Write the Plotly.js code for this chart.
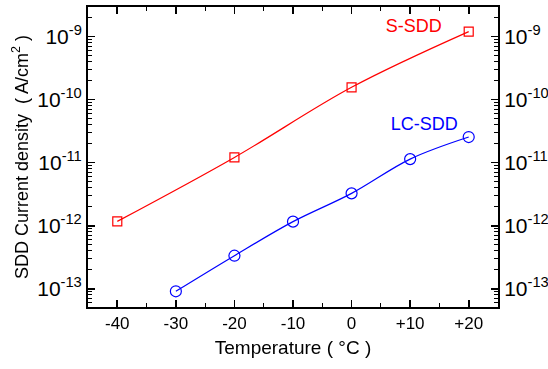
<!DOCTYPE html>
<html><head><meta charset="utf-8">
<script src="https://cdn.plot.ly/plotly-3.0.1.min.js"></script>
<style>html,body{margin:0;padding:0;background:#fff}#chart{width:548px;height:369px}</style>
</head><body><div id="chart"></div>
<script>
const sTemps = [-40, -20, 0, 20];
const sValues = [1.17e-12, 1.21e-11, 1.57e-10, 1.2e-9];
const lcTemps = [-30, -20, -10, 0, 10, 20];
const lcValues = [9.1e-14, 3.34e-13, 1.16e-12, 3.26e-12, 1.14e-11, 2.55e-11];
const seriesNames = ['S-SDD', 'LC-SDD'];
const xTickVals = [-40, -30, -20, -10, 0, 10, 20];
const xTickText = ['-40', '-30', '-20', '-10', '0', '+10', '+20'];
const yTickVals = [1e-13, 1e-12, 1e-11, 1e-10, 1e-9];
const yTickText = ['10<sup>-13</sup>', '10<sup>-12</sup>', '10<sup>-11</sup>', '10<sup>-10</sup>', '10<sup>-9</sup>'];

// minor tick positions on the log axis (2..9 x each decade)
const minorVals = [];
for (let e = -14; e <= -9; e++) for (let k = 2; k <= 9; k++) minorVals.push(k * Math.pow(10, e));

const font = 'Liberation Sans, Arial, sans-serif';
const traces = [
  {x: sTemps, y: sValues, mode: 'lines+markers', line: {color: '#ff0000', width: 1.2, shape: 'spline'},
   marker: {symbol: 'square-open', size: 9, color: '#ff0000', line: {width: 1.2}}, showlegend: false},
  {x: lcTemps, y: lcValues, mode: 'lines+markers', line: {color: '#0000ff', width: 1.2, shape: 'spline'},
   marker: {symbol: 'circle-open', size: 11, color: '#0000ff', line: {width: 1.2}}, showlegend: false},
  {x: [10.6], y: [Math.pow(10, -8.862)], mode: 'text', text: [seriesNames[0]], textposition: 'middle center',
   textfont: {family: font, size: 18, color: '#ff0000'}, hoverinfo: 'skip', showlegend: false, cliponaxis: false},
  {x: [12.4], y: [Math.pow(10, -10.408)], mode: 'text', text: [seriesNames[1]], textposition: 'middle center',
   textfont: {family: font, size: 18, color: '#0000ff'}, hoverinfo: 'skip', showlegend: false, cliponaxis: false},
  {x: sTemps, y: sValues, yaxis: 'y2', mode: 'markers', opacity: 0, hoverinfo: 'skip', showlegend: false}
];
const yRange = [-13.29, -8.53];
const xRange = [-45, 25];
const yCommon = {
  type: 'log', range: yRange, tickmode: 'array', tickvals: yTickVals, ticktext: yTickText,
  ticks: 'inside', ticklen: 7, tickwidth: 1.6, tickcolor: '#000',
  showline: true, linecolor: '#000', linewidth: 2, showgrid: false, zeroline: false,
  tickfont: {family: font, size: 21, color: '#000'},
  minor: {tickmode: 'array', tickvals: minorVals, ticks: 'inside', ticklen: 4, tickwidth: 1.2, tickcolor: '#000', showgrid: false}
};
const layout = {
  width: 548, height: 369,
  margin: {l: 88, r: 50, t: 7, b: 62},
  paper_bgcolor: '#fff', plot_bgcolor: '#fff',
  font: {family: font, color: '#000'},
  xaxis: {
    range: xRange, tickmode: 'array', tickvals: xTickVals, ticktext: xTickText,
    ticks: 'inside', ticklen: 7, tickwidth: 1.6, tickcolor: '#000',
    showline: true, linecolor: '#000', linewidth: 2, mirror: 'ticks',
    showgrid: false, zeroline: false,
    tickfont: {family: font, size: 17, color: '#000'},
    minor: {ticks: 'inside', ticklen: 4, tickwidth: 1.2, tickcolor: '#000', dtick: 5, tick0: -45, showgrid: false},
    title: {text: 'Temperature ( °C )', font: {family: font, size: 19, color: '#000'}, standoff: 8}
  },
  yaxis: Object.assign({}, yCommon, {
    side: 'left',
    title: {text: 'SDD Current density  ( A/cm<sup>2</sup> )', font: {family: font, size: 18, color: '#000'}, standoff: 4}
  }),
  yaxis2: Object.assign({}, yCommon, {side: 'right', overlaying: 'y'})
};
Plotly.newPlot('chart', traces, layout, {displayModeBar: false, staticPlot: true});
</script></body></html>
